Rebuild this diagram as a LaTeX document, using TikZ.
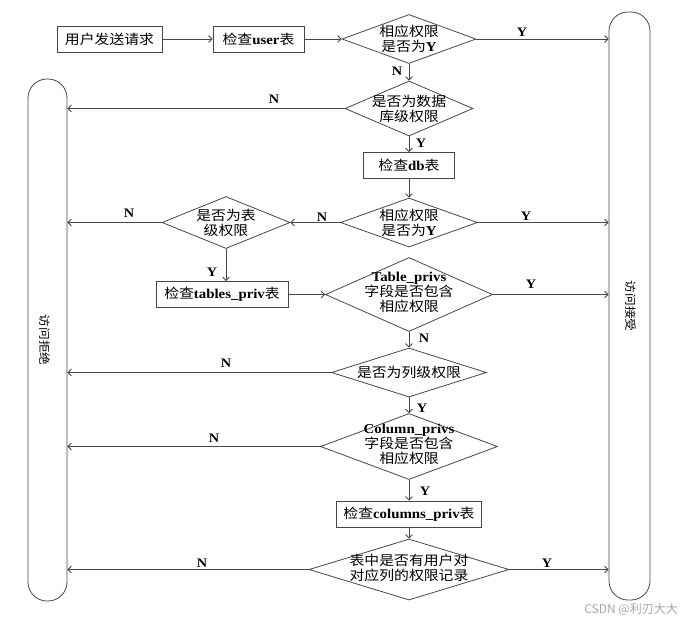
\documentclass[tikz,border=0pt]{standalone}
\usepackage{fontspec}
\setmainfont{Noto Sans CJK SC}[FakeStretch=1.1]
\newfontfamily\latserif{Liberation Serif}[FakeStretch=1.1]
\newfontfamily\wmfont{Noto Sans CJK SC}
\usetikzlibrary{shapes.geometric,arrows.meta}
\newcommand\lb[1]{{\latserif\bfseries #1}}
\tikzset{
 ln/.style={draw=black!72, line width=0.8pt},
 box/.style={ln, rectangle, minimum height=26pt, inner sep=0pt, font=\fontsize{13.5}{15}\selectfont},
 dia/.style={ln, diamond, inner sep=0pt},
 dtxt/.style={align=center, inner sep=0pt, font=\fontsize{13.5}{15}\selectfont},
 col/.style={ln, rectangle, rounded corners=19pt, inner sep=0pt},
 arr/.style={draw=black!72, line width=0.8pt, -{Straight Barb[length=3.5pt,width=7pt]}},
 yn/.style={font=\latserif\bfseries\fontsize{13}{13}\selectfont, inner sep=0pt},
 vtxt/.style={rotate=-90, inner sep=0pt, font=\fontsize{11.5}{11.5}\selectfont}
}
\begin{document}
\begin{tikzpicture}[x=1pt,y=-1pt]
\useasboundingbox (0,0) rectangle (685,622);
% columns
\node[col, minimum width=41pt, minimum height=588pt] (acc) at (629.5,306) {};
\node[vtxt] (acct) at (631,306) {访问接受};
\node[col, minimum width=39pt, minimum height=522pt] (rej) at (47.5,340) {};
\node[vtxt] (rejt) at (45,340) {访问拒绝};
% boxes and diamonds
\node[box, minimum width=105pt] (b1) at (109.5,39) {用户发送请求};
\node[box, minimum width=91pt] (b2) at (258.5,39) {检查\lb{user}表};
\node[dia, minimum width=134pt, minimum height=49pt] (d1) at (409,39) {};
\node[dtxt] (d1t) at (409,39) {相应权限\\是否为\lb{Y}};
\node[dia, minimum width=128pt, minimum height=55pt] (d2) at (409,108.5) {};
\node[dtxt] (d2t) at (409,108.5) {是否为数据\\库级权限};
\node[box, minimum width=91pt] (b3) at (409,165.5) {检查\lb{db}表};
\node[dia, minimum width=137pt, minimum height=49pt] (d3) at (409,222.5) {};
\node[dtxt] (d3t) at (409,222.5) {相应权限\\是否为\lb{Y}};
\node[dia, minimum width=128pt, minimum height=52pt] (d4) at (226,222.5) {};
\node[dtxt] (d4t) at (226,222.5) {是否为表\\级权限};
\node[box, minimum width=132pt] (b4) at (222,294.5) {检查\lb{tables\_priv}表};
\node[dia, minimum width=167pt, minimum height=74pt] (d5) at (409,294.5) {};
\node[dtxt] (d5t) at (409,292) {\lb{Table\_privs}\\字段是否包含\\相应权限};
\node[dia, minimum width=155pt, minimum height=49pt] (d6) at (409,372.5) {};
\node[dtxt] (d6t) at (409,372.5) {是否为列级权限};
\node[dia, minimum width=177pt, minimum height=66pt] (d7) at (409,446.5) {};
\node[dtxt] (d7t) at (409,444) {\lb{Column\_privs}\\字段是否包含\\相应权限};
\node[box, minimum width=145pt] (b5) at (409,514) {检查\lb{columns\_priv}表};
\node[dia, minimum width=200pt, minimum height=61pt] (d8) at (409,569.5) {};
\node[dtxt] (d8t) at (409,568) {表中是否有用户对\\对应列的权限记录};
% connectors
\draw[arr] (b1.east) -- (b2.west);
\draw[arr] (b2.east) -- (d1.west);
\draw[arr] (d1.east) -- (d1.east -| acc.west);
\draw[arr] (d1.south) -- (d2.north);
\draw[arr] (d2.west) -- (d2.west -| rej.east);
\draw[arr] (d2.south) -- (b3.north);
\draw[arr] (b3.south) -- (d3.north);
\draw[arr] (d3.east) -- (d3.east -| acc.west);
\draw[arr] (d3.west) -- (d4.east);
\draw[arr] (d4.west) -- (d4.west -| rej.east);
\draw[arr] (d4.south) -- (d4.south |- b4.north);
\draw[arr] (b4.east) -- (d5.west);
\draw[arr] (d5.east) -- (d5.east -| acc.west);
\draw[arr] (d5.south) -- (d6.north);
\draw[arr] (d6.west) -- (d6.west -| rej.east);
\draw[arr] (d6.south) -- (d7.north);
\draw[arr] (d7.west) -- (d7.west -| rej.east);
\draw[arr] (d7.south) -- (b5.north);
\draw[arr] (b5.south) -- (d8.north);
\draw[arr] (d8.west) -- (d8.west -| rej.east);
\draw[arr] (d8.east) -- (d8.east -| acc.west);
% labels
\node[yn] (l1) at (522,32) {Y};
\node[yn] (l2) at (397,71) {N};
\node[yn] (l3) at (274,99) {N};
\node[yn] (l4) at (421,143) {Y};
\node[yn] (l5) at (129,213) {N};
\node[yn] (l6) at (322,217) {N};
\node[yn] (l7) at (526,216) {Y};
\node[yn] (l8) at (212,272) {Y};
\node[yn] (l9) at (531,284) {Y};
\node[yn] (l10) at (424,338) {N};
\node[yn] (l11) at (226,363) {N};
\node[yn] (l12) at (422,408) {Y};
\node[yn] (l13) at (214,438) {N};
\node[yn] (l14) at (425,491) {Y};
\node[yn] (l15) at (202,563) {N};
\node[yn] (l16) at (547,563) {Y};
% watermark
\node[font=\wmfont\fontsize{12}{12}\selectfont, text=black!35, anchor=east, inner sep=0pt] (wm) at (678,609) {CSDN @利刃大大};
\end{tikzpicture}
\end{document}
